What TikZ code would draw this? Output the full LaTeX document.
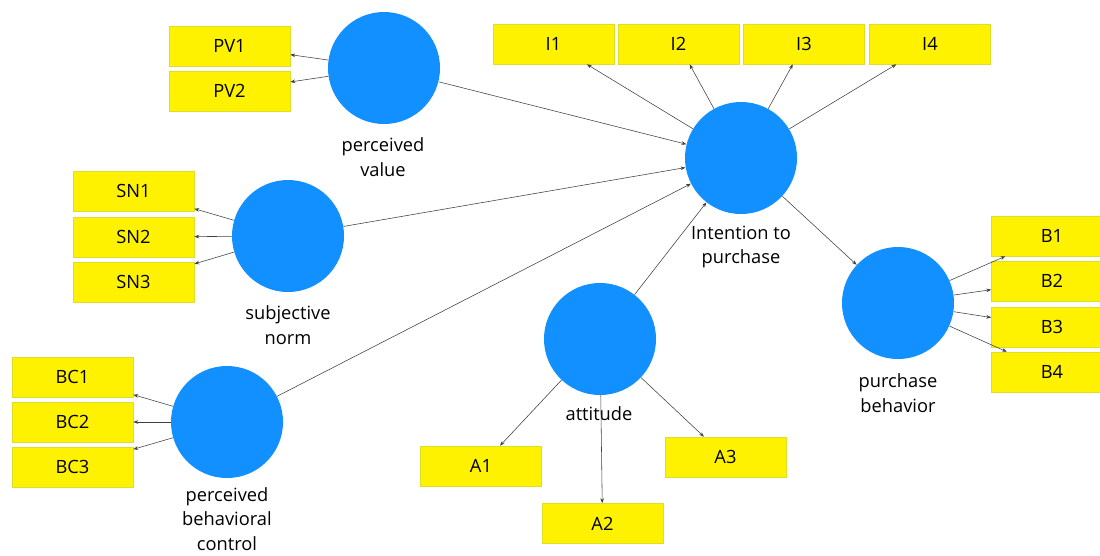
\documentclass[tikz,border=0pt]{standalone}
\usepackage{fontspec}
\setmainfont{Open Sans}
\usepackage{xcolor}
\usepackage{tikz}
\usetikzlibrary{arrows.meta}
\definecolor{plsblue}{RGB}{18,144,255}
\definecolor{boxedge}{RGB}{222,222,40}

\begin{document}
\begin{tikzpicture}[x=0.025cm, y=-0.025cm, font=\fontsize{13}{17.5}\selectfont,
  latent/.style={circle, fill=plsblue, minimum size=2.8cm, inner sep=0pt},
  item/.style={draw=boxedge, fill=yellow, minimum width=3.025cm, minimum height=1cm, inner sep=0pt},
  lbl/.style={align=center, inner sep=0pt},
  link/.style={-{Stealth[length=3.5pt,width=2.6pt]}, line width=0.4pt, draw=black!75}]

\useasboundingbox (0,0) rectangle (1100,555);

% latent variables
\node (pv) at (384,68) [latent]{};
\node (it) at (741,158) [latent]{};
\node (sn) at (288,236) [latent]{};
\node (bc) at (227,422) [latent]{};
\node (at) at (600,339) [latent]{};
\node (pb) at (898,303) [latent]{};

\node (pvl) at (383,157) [lbl]{perceived\\value};
\node (itl) at (741,247) [lbl]{Intention to\\purchase};
\node (snl) at (288,325) [lbl]{subjective\\norm};
\node (bcl) at (227,519) [lbl]{perceived\\behavioral\\control};
\node (atl) at (599,414) [lbl]{attitude};
\node (pbl) at (898,393) [lbl]{purchase\\behavior};

% indicators
\node (pv1) at (229.5,46) [item]{PV1};
\node (pv2) at (229.5,91) [item]{PV2};

\node (i1) at (553.5,44) [item]{I1};
\node (i2) at (678.5,44) [item]{I2};
\node (i3) at (804,44) [item]{I3};
\node (i4) at (930,44) [item]{I4};

\node (sn1) at (133.5,191) [item]{SN1};
\node (sn2) at (133.5,237) [item]{SN2};
\node (sn3) at (133.5,282) [item]{SN3};

\node (bc1) at (72.5,377) [item]{BC1};
\node (bc2) at (72.5,422) [item]{BC2};
\node (bc3) at (72.5,467) [item]{BC3};

\node (b1) at (1052,236) [item]{B1};
\node (b2) at (1052,281) [item]{B2};
\node (b3) at (1052,327) [item]{B3};
\node (b4) at (1052,372) [item]{B4};

\node (a1) at (481,466) [item]{A1};
\node (a2) at (602.5,523.5) [item]{A2};
\node (a3) at (725.5,457) [item]{A3};

% structural paths
\draw[link] (pv) -- (it);
\draw[link] (sn) -- (it);
\draw[link] (bc) -- (it);
\draw[link] (at) -- (it);
\draw[link] (it) -- (pb);

% outer loadings
\draw[link] (pv) -- (pv1);
\draw[link] (pv) -- (pv2);
\draw[link] (it) -- (i1);
\draw[link] (it) -- (i2);
\draw[link] (it) -- (i3);
\draw[link] (it) -- (i4);
\draw[link] (sn) -- (sn1);
\draw[link] (sn) -- (sn2);
\draw[link] (sn) -- (sn3);
\draw[link] (bc) -- (bc1);
\draw[link] (bc) -- (bc2);
\draw[link] (bc) -- (bc3);
\draw[link] (pb) -- (b1);
\draw[link] (pb) -- (b2);
\draw[link] (pb) -- (b3);
\draw[link] (pb) -- (b4);
\draw[link] (at) -- (a1);
\draw[link] (at) -- (a2);
\draw[link] (at) -- (a3);

\end{tikzpicture}
\end{document}
